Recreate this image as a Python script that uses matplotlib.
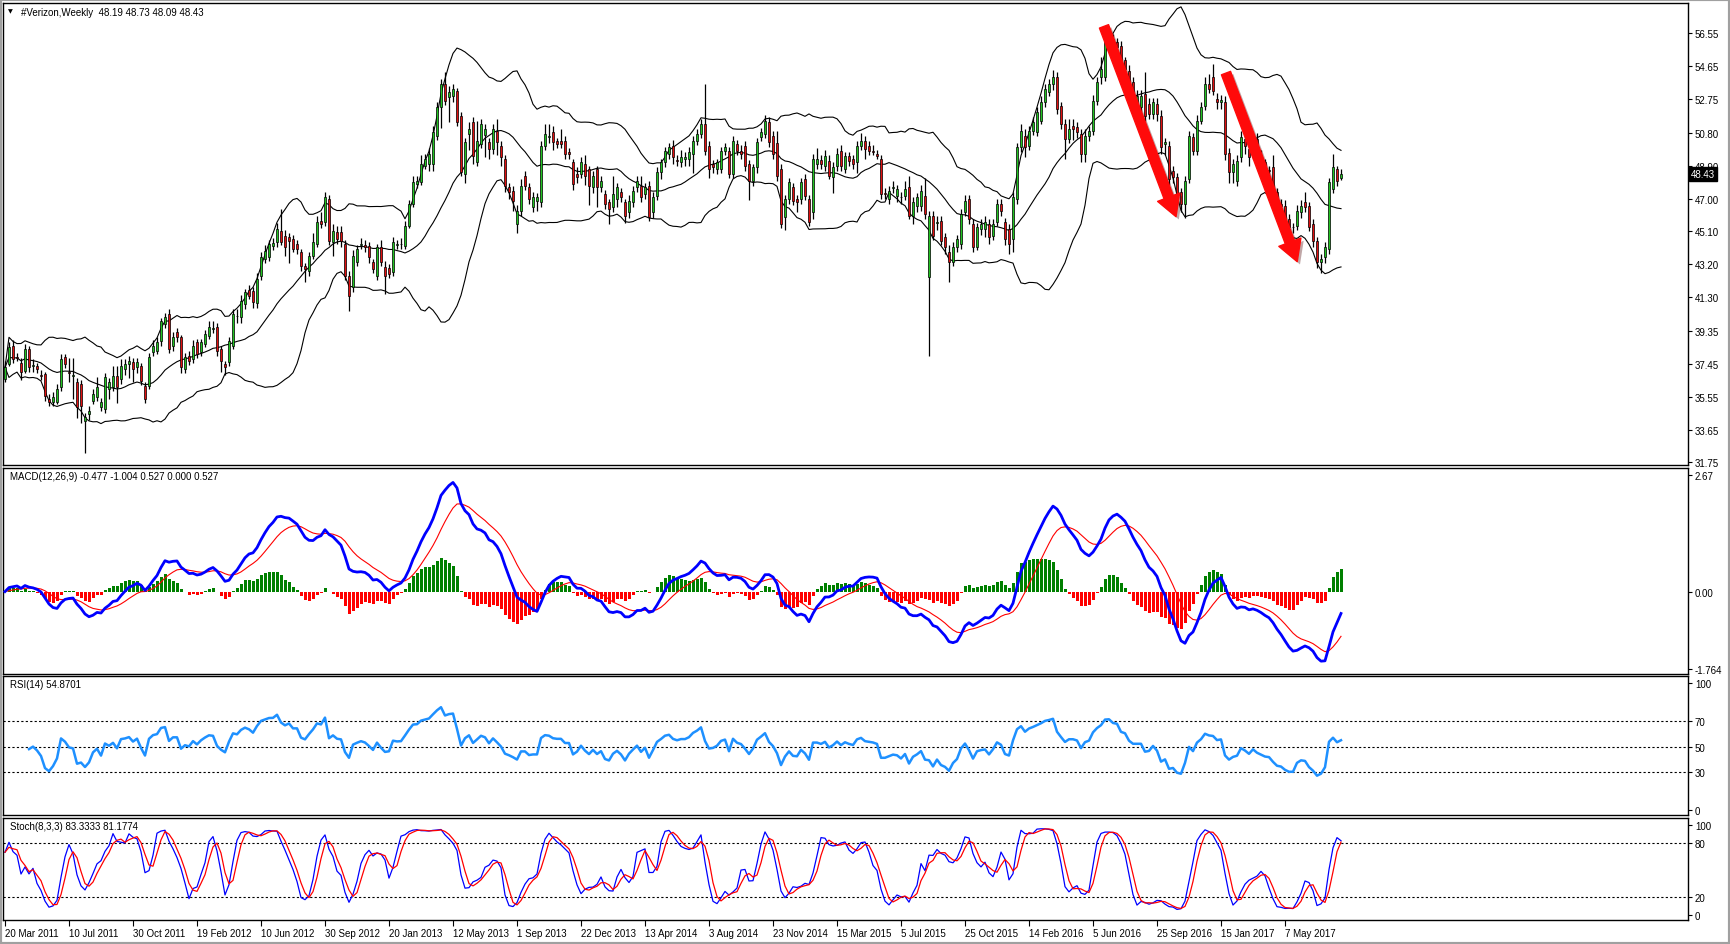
import numpy as np
import pandas as pd
import matplotlib
matplotlib.use("Agg")
import matplotlib.pyplot as plt
import matplotlib.transforms as mtransforms
import matplotlib.patheffects as pe
from matplotlib.patches import FancyArrowPatch, Rectangle

plt.rcParams['font.family'] = ['Liberation Sans', 'DejaVu Sans']

# weekly OHLC, 20 Mar 2011 .. 13 Aug 2017
opens = [
    36.57, 37.44, 38.50, 37.85, 37.52, 37.05, 38.30, 37.30, 37.30, 36.80,
    36.86, 35.41, 35.22, 35.22, 36.09, 37.82, 37.00, 36.75, 36.42, 36.28,
    34.16, 34.55, 35.32, 35.51, 34.93, 34.83, 35.99, 36.09, 36.76, 36.57,
    37.15, 37.44, 37.53, 37.24, 37.34, 36.19, 36.19, 38.11, 38.21, 38.79,
    39.75, 40.33, 38.50, 39.27, 38.98, 37.15, 37.92, 37.73, 38.69, 38.11,
    38.59, 39.07, 39.46, 39.56, 38.30, 37.44, 37.53, 38.50, 40.23, 40.13,
    40.91, 41.73, 41.68, 40.96, 42.54, 43.51, 43.60, 44.28, 44.47, 45.14,
    44.86, 44.76, 44.66, 44.37, 43.89, 43.12, 42.83, 43.70, 44.37, 45.72,
    45.63, 46.97, 44.47, 45.05, 45.05, 44.37, 42.54, 41.87, 43.31, 44.30,
    44.32, 44.28, 43.31, 42.54, 44.18, 43.02, 42.97, 42.74, 44.30, 44.35,
    44.28, 45.43, 46.68, 47.84, 47.94, 48.90, 48.99, 48.99, 50.64, 52.27,
    53.62, 52.85, 52.93, 53.24, 51.79, 48.42, 50.73, 51.41, 49.09, 50.16,
    50.69, 50.25, 49.86, 50.93, 50.06, 49.29, 47.65, 47.46, 45.53, 46.30,
    48.32, 47.65, 46.49, 46.88, 46.78, 50.06, 50.54, 50.83, 50.35, 50.35,
    50.35, 49.67, 49.09, 48.42, 48.42, 48.99, 48.71, 47.65, 48.71, 47.65,
    47.26, 46.78, 46.49, 46.97, 47.36, 46.78, 46.21, 46.78, 47.65, 47.74,
    47.26, 47.74, 46.21, 47.17, 48.52, 49.09, 49.58, 50.06, 49.20, 49.09,
    49.29, 49.29, 49.58, 50.35, 50.73, 51.31, 50.06, 48.99, 48.71, 48.71,
    49.77, 49.77, 48.42, 50.16, 49.77, 50.06, 48.99, 48.03, 48.80, 50.54,
    50.73, 51.41, 50.64, 50.20, 48.71, 45.91, 46.97, 47.65, 46.97, 46.97,
    48.13, 46.97, 46.21, 49.00, 49.20, 48.90, 49.19, 48.23, 48.90, 49.77,
    48.71, 49.48, 49.29, 49.09, 50.06, 50.35, 50.06, 49.77, 49.58, 49.29,
    47.30, 46.97, 47.60, 47.17, 47.10, 47.17, 47.65, 46.01, 46.59, 46.59,
    47.17, 42.45, 46.01, 45.60, 45.72, 44.76, 43.89, 43.31, 44.18, 44.37,
    46.21, 46.97, 45.53, 44.18, 45.24, 45.24, 45.53, 44.86, 45.63, 46.68,
    45.63, 45.24, 44.66, 46.97, 49.96, 50.64, 50.06, 50.93, 50.83, 51.50,
    52.56, 53.14, 53.62, 54.01, 52.37, 51.31, 50.45, 51.21, 51.12, 50.73,
    49.58, 50.64, 50.93, 52.66, 54.01, 54.01, 56.03, 56.22, 56.03, 55.84,
    55.00, 54.39, 53.72, 52.56, 52.27, 53.04, 52.46, 51.89, 52.46, 51.79,
    50.16, 50.06, 48.61, 48.23, 47.36, 46.68, 48.13, 50.54, 49.77, 51.50,
    52.37, 53.62, 54.01, 52.75, 52.56, 52.56, 49.63, 48.52, 48.03, 49.38,
    50.45, 49.86, 49.77, 50.45, 49.48, 49.09, 48.63, 48.80, 47.36, 46.69,
    46.59, 45.82, 45.36, 45.43, 46.21, 46.78, 46.59, 45.53, 44.57, 43.31,
    43.60, 44.08, 47.55, 48.71, 48.19,
]
highs = [
    37.6, 38.7, 38.8, 38.1, 37.8, 38.6, 38.5, 37.7, 37.5, 37.1,
    37.0, 35.7, 35.8, 36.3, 38.0, 38.0, 37.8, 37.8, 36.6, 36.5,
    34.6, 35.0, 36.0, 36.7, 35.5, 36.9, 36.6, 37.3, 37.3, 37.7,
    37.7, 37.9, 37.8, 37.8, 37.5, 36.4, 38.1, 38.8, 39.0, 40.1,
    40.4, 40.6, 39.3, 39.5, 39.1, 38.1, 38.2, 38.8, 38.9, 38.9,
    39.4, 39.9, 39.9, 39.8, 38.5, 37.6, 39.0, 40.6, 40.6, 41.4,
    41.8, 42.0, 41.9, 42.7, 43.9, 44.3, 44.6, 44.7, 45.6, 46.4,
    45.2, 45.0, 44.9, 44.6, 44.1, 43.3, 43.9, 45.0, 46.0, 46.2,
    47.4, 47.2, 45.5, 45.4, 45.4, 44.6, 42.8, 44.0, 44.3, 44.7,
    44.6, 44.5, 43.5, 44.4, 44.6, 43.4, 43.2, 44.8, 44.6, 44.7,
    45.7, 46.9, 48.3, 48.3, 49.5, 49.6, 49.9, 51.2, 52.6, 53.9,
    54.3, 53.5, 53.6, 53.4, 52.0, 50.5, 51.4, 51.7, 51.5, 51.6,
    51.3, 50.5, 51.3, 51.6, 50.3, 49.5, 47.9, 47.7, 46.6, 48.1,
    48.6, 47.9, 47.4, 47.3, 50.3, 51.3, 51.3, 51.2, 50.5, 51.0,
    50.6, 49.9, 49.3, 48.8, 49.4, 49.5, 48.9, 48.6, 48.9, 48.3,
    47.5, 47.0, 48.3, 47.9, 47.6, 47.0, 47.2, 47.7, 48.3, 48.3,
    47.9, 48.0, 47.4, 48.8, 49.3, 50.0, 50.2, 50.4, 49.5, 49.8,
    49.7, 50.0, 50.6, 51.0, 51.6, 53.6, 50.3, 49.2, 49.3, 50.0,
    50.2, 50.0, 50.6, 50.4, 50.1, 50.3, 49.2, 49.0, 50.5, 51.1,
    51.8, 51.7, 50.9, 50.9, 49.0, 47.2, 48.2, 47.9, 47.2, 48.2,
    48.4, 47.2, 49.6, 49.9, 49.5, 49.8, 49.5, 49.1, 49.9, 50.1,
    49.7, 49.7, 49.5, 50.3, 50.8, 50.6, 50.3, 50.1, 49.8, 49.5,
    47.6, 47.7, 48.0, 47.8, 47.4, 48.0, 48.3, 47.1, 47.3, 47.8,
    48.2, 46.3, 46.3, 46.0, 46.0, 45.0, 44.3, 44.5, 44.9, 46.4,
    47.2, 47.2, 45.8, 45.6, 45.8, 46.0, 45.8, 45.8, 47.0, 47.0,
    45.9, 45.5, 47.4, 50.2, 51.3, 51.0, 51.2, 51.7, 52.3, 52.9,
    53.6, 53.9, 54.4, 54.3, 52.6, 51.6, 51.6, 51.6, 51.4, 51.0,
    51.0, 51.2, 53.0, 54.0, 55.2, 56.6, 56.8, 56.5, 56.3, 56.1,
    55.2, 54.7, 54.0, 53.3, 53.3, 54.3, 52.8, 52.8, 52.8, 52.1,
    50.5, 50.3, 48.9, 48.5, 47.6, 48.3, 50.9, 50.8, 51.8, 52.6,
    54.0, 54.2, 54.8, 53.1, 53.0, 52.9, 49.9, 49.3, 49.5, 50.9,
    50.8, 50.1, 50.5, 50.8, 49.8, 49.3, 48.9, 49.5, 47.6, 47.0,
    46.9, 46.1, 45.6, 46.6, 46.9, 47.4, 46.8, 45.8, 44.8, 43.8,
    44.5, 48.2, 49.6, 48.9, 48.73,
]
lows = [
    36.4, 37.3, 37.5, 37.6, 36.5, 36.9, 37.0, 37.0, 36.9, 36.5,
    35.3, 35.0, 35.0, 35.1, 35.9, 37.2, 36.4, 35.4, 34.3, 34.0,
    32.3, 34.2, 35.1, 35.3, 34.7, 34.6, 35.4, 35.9, 35.2, 36.3,
    36.8, 36.6, 36.4, 36.9, 36.2, 35.2, 36.0, 37.9, 38.0, 38.5,
    39.5, 38.1, 38.2, 38.7, 36.9, 36.9, 37.4, 37.5, 37.8, 37.9,
    38.4, 38.9, 39.2, 37.9, 37.0, 36.8, 37.3, 38.3, 39.8, 39.8,
    40.6, 41.2, 40.7, 40.7, 42.3, 43.3, 43.4, 44.0, 44.2, 44.3,
    43.7, 43.3, 43.9, 43.8, 42.8, 42.2, 42.5, 43.5, 44.2, 45.3,
    45.4, 44.3, 43.7, 44.4, 44.2, 42.3, 40.5, 41.6, 43.1, 44.1,
    43.9, 43.3, 42.7, 42.3, 43.1, 41.5, 42.4, 42.5, 44.1, 44.1,
    44.1, 45.3, 46.5, 47.6, 47.8, 48.7, 48.6, 48.6, 50.4, 51.1,
    52.4, 51.4, 52.6, 51.2, 48.3, 47.9, 49.8, 49.0, 48.9, 49.9,
    49.4, 49.3, 49.6, 49.5, 48.9, 47.4, 47.0, 46.3, 45.0, 46.0,
    47.5, 46.7, 46.2, 46.3, 46.5, 49.8, 50.2, 49.8, 49.9, 49.9,
    49.3, 49.3, 47.5, 47.9, 48.2, 47.8, 46.6, 47.3, 46.5, 47.4,
    46.4, 45.5, 46.2, 46.5, 46.8, 45.6, 45.9, 46.5, 47.4, 46.8,
    47.0, 45.7, 45.9, 46.9, 48.1, 48.8, 49.3, 49.0, 48.9, 48.8,
    48.9, 48.9, 48.5, 50.1, 50.5, 49.5, 48.2, 48.5, 48.4, 48.5,
    49.5, 48.2, 48.2, 49.5, 49.3, 48.6, 46.9, 47.7, 48.5, 50.3,
    50.5, 50.0, 49.3, 48.0, 45.3, 45.2, 46.7, 46.6, 46.2, 46.7,
    46.9, 45.4, 45.8, 48.7, 48.7, 48.6, 48.1, 47.3, 48.6, 48.6,
    48.5, 48.9, 48.7, 48.5, 49.8, 49.3, 49.5, 49.5, 49.3, 47.0,
    47.0, 46.7, 47.3, 46.8, 46.7, 46.9, 45.8, 45.5, 46.2, 46.3,
    45.8, 37.9, 44.6, 45.2, 44.3, 43.8, 42.2, 43.1, 43.9, 44.1,
    46.0, 45.5, 43.9, 44.0, 44.9, 44.8, 44.4, 44.6, 45.4, 46.0,
    44.3, 43.8, 43.9, 46.7, 49.7, 49.4, 49.8, 50.7, 50.6, 51.3,
    52.3, 52.9, 53.3, 51.9, 51.0, 49.3, 50.2, 50.4, 50.5, 49.1,
    49.1, 50.3, 50.7, 52.4, 53.6, 53.8, 55.8, 55.5, 55.4, 54.3,
    54.0, 53.1, 52.6, 52.3, 52.0, 51.5, 51.6, 51.6, 51.5, 49.6,
    49.5, 47.8, 47.9, 46.6, 46.2, 45.9, 47.9, 49.5, 49.5, 51.3,
    52.1, 53.1, 53.0, 52.2, 52.2, 49.2, 47.9, 47.9, 47.7, 49.1,
    49.6, 48.9, 49.3, 49.1, 48.8, 48.4, 48.3, 47.3, 46.5, 46.2,
    45.5, 45.0, 45.0, 45.2, 45.9, 46.2, 45.1, 44.2, 43.0, 42.7,
    43.3, 43.8, 47.3, 47.7, 48.09,
]
closes = [
    37.24, 38.40, 37.73, 37.80, 36.95, 38.30, 37.24, 37.40, 37.15, 36.75,
    35.60, 35.22, 35.51, 35.99, 37.73, 37.44, 36.90, 36.80, 34.93, 35.03,
    34.35, 34.74, 35.70, 36.09, 35.22, 36.66, 36.38, 36.76, 36.09, 37.34,
    37.44, 37.63, 37.15, 37.53, 36.47, 35.41, 37.82, 38.50, 38.69, 39.94,
    40.13, 38.30, 38.98, 38.98, 37.24, 37.82, 37.63, 38.50, 38.02, 38.69,
    39.17, 39.56, 39.50, 38.21, 37.63, 37.24, 38.79, 40.33, 40.20, 41.10,
    41.58, 41.39, 41.00, 42.35, 43.60, 43.99, 44.37, 44.41, 45.24, 44.47,
    44.18, 44.57, 44.08, 44.08, 43.12, 42.93, 43.70, 44.47, 45.63, 45.53,
    47.07, 44.57, 45.14, 44.66, 44.57, 42.54, 41.39, 43.70, 44.08, 44.40,
    44.18, 43.60, 42.93, 44.18, 43.31, 42.54, 42.64, 44.47, 44.35, 44.40,
    45.43, 46.68, 47.94, 48.03, 48.99, 49.29, 49.58, 50.83, 52.27, 53.62,
    52.66, 53.14, 53.33, 51.41, 48.52, 50.25, 51.02, 49.48, 50.35, 51.31,
    51.02, 49.86, 51.02, 50.25, 49.38, 47.74, 47.36, 46.88, 46.30, 47.74,
    47.74, 46.97, 47.07, 47.07, 50.06, 50.73, 50.64, 50.25, 50.16, 50.16,
    49.58, 49.58, 47.84, 48.23, 49.09, 48.32, 47.74, 48.32, 47.65, 48.03,
    46.68, 46.40, 47.26, 47.65, 47.07, 46.01, 46.88, 47.46, 48.03, 47.07,
    47.65, 45.91, 47.07, 48.52, 49.09, 49.77, 49.96, 49.38, 49.18, 49.38,
    49.38, 49.67, 50.35, 50.73, 51.31, 49.77, 48.71, 48.80, 49.09, 49.77,
    49.96, 48.42, 50.35, 49.77, 49.58, 48.90, 48.03, 48.80, 50.25, 50.83,
    51.50, 50.25, 49.58, 48.32, 45.53, 46.97, 47.94, 46.88, 46.78, 47.94,
    47.17, 45.63, 49.29, 49.29, 49.00, 49.48, 48.32, 48.80, 49.58, 48.90,
    49.48, 49.19, 49.00, 50.06, 50.35, 49.86, 49.77, 49.67, 49.48, 47.26,
    47.26, 47.46, 47.65, 47.55, 47.07, 47.55, 46.01, 46.78, 47.07, 47.46,
    46.11, 46.01, 44.86, 45.63, 44.57, 44.18, 43.31, 44.18, 44.66, 46.11,
    46.88, 45.82, 44.18, 45.34, 45.53, 45.63, 44.76, 45.53, 46.68, 46.30,
    44.66, 44.37, 47.07, 49.96, 50.93, 49.96, 50.93, 51.41, 51.99, 52.56,
    53.33, 53.62, 54.01, 52.18, 51.31, 50.45, 51.02, 51.02, 50.83, 49.58,
    50.64, 50.93, 52.66, 53.72, 54.49, 56.22, 56.32, 55.84, 55.74, 54.68,
    54.49, 53.43, 52.95, 52.95, 52.95, 51.79, 51.89, 52.56, 51.89, 49.96,
    50.25, 48.13, 48.23, 46.97, 46.68, 48.03, 50.64, 49.77, 51.50, 52.27,
    53.62, 53.33, 53.24, 52.56, 52.70, 49.58, 48.52, 48.99, 49.19, 50.54,
    50.06, 49.38, 50.16, 49.48, 49.09, 48.71, 48.60, 47.65, 46.78, 46.59,
    45.82, 45.34, 45.34, 46.30, 46.59, 46.49, 45.34, 44.57, 43.31, 43.51,
    44.18, 47.94, 48.80, 48.03, 48.43,
]

date_labels = ['20 Mar 2011', '10 Jul 2011', '30 Oct 2011', '19 Feb 2012', '10 Jun 2012',
               '30 Sep 2012', '20 Jan 2013', '12 May 2013', '1 Sep 2013', '22 Dec 2013',
               '13 Apr 2014', '3 Aug 2014', '23 Nov 2014', '15 Mar 2015', '5 Jul 2015',
               '25 Oct 2015', '14 Feb 2016', '5 Jun 2016', '25 Sep 2016', '15 Jan 2017',
               '7 May 2017']
date_bars = list(range(0, 321, 16))

price_ticks = [56.55, 54.65, 52.75, 50.80, 48.90, 47.00, 45.10, 43.20, 41.30, 39.35,
               37.45, 35.55, 33.65, 31.75]
macd_ticks = [2.67, 0.00, -1.764]
macd_tick_labels = ['2.67', '0.00', '-1.764']
rsi_ticks = [100, 70, 50, 30, 0]
stoch_ticks = [100, 80, 20, 0]

last_price = 48.43
header = '#Verizon,Weekly  48.19 48.73 48.09 48.43'
macd_title = 'MACD(12,26,9) -0.477 -1.004 0.527 0.000 0.527'
rsi_title = 'RSI(14) 54.8701'
stoch_title = 'Stoch(8,3,3) 83.3333 81.1774'

# hand-drawn trend arrows (bar index, price)
trend_arrows = [((274.5, 57.1), (293.0, 45.8)), ((305.0, 54.4), (323.3, 43.2))]

# ---- indicators
o = np.array(opens)
h = np.array(highs)
l = np.array(lows)
c = pd.Series(closes)
n = len(c)
x = np.arange(n)

mid = c.rolling(20, min_periods=1).mean()
sd = c.rolling(20, min_periods=1).std(ddof=0)
upper = mid + 2 * sd
lower = mid - 2 * sd

ema12 = c.ewm(span=12, adjust=False).mean()
ema26 = c.ewm(span=26, adjust=False).mean()
macd = ema12 - ema26
signal = macd.ewm(span=9, adjust=False).mean()
hist = macd - signal

delta = c.diff()
gain = delta.clip(lower=0).ewm(alpha=1 / 14, adjust=True, min_periods=6).mean()
loss = (-delta.clip(upper=0)).ewm(alpha=1 / 14, adjust=True, min_periods=6).mean()
rsi = 100 - 100 / (1 + gain / loss)

hs = pd.Series(h)
ls = pd.Series(l)
ll = ls.rolling(8, min_periods=1).min()
hh = hs.rolling(8, min_periods=1).max()
k = 100 * (c - ll).rolling(3, min_periods=1).sum() / (hh - ll).rolling(3, min_periods=1).sum()
d = k.rolling(3, min_periods=1).mean()

# ---- figure
W, H = 1730, 945
fig = plt.figure(figsize=(W / 100, H / 100), dpi=100)
fig.patch.set_facecolor('white')

left = 3 / W
width = (1688 - 3) / W
FS = 7


def panel(top_px, bot_px):
    ax = fig.add_axes([left, 1 - bot_px / H, width, (bot_px - top_px) / H])
    ax.set_xlim(-0.5, 420.75)
    ax.yaxis.tick_right()
    ax.tick_params(axis='y', direction='out', length=3, width=0.8, pad=2,
                   labelsize=FS, colors='black')
    ax.set_xticks([])
    for s in ax.spines.values():
        s.set_linewidth(1.0)
        s.set_color('black')
    return ax


ax = panel(4, 466)
ax_macd = panel(469, 675)
ax_rsi = panel(677, 816)
ax_st = panel(819, 921)

# main price panel
green = '#22C322'
red = '#E01010'
up = c.values >= o
body_lo = np.minimum(o, c.values)
body_h = np.maximum(np.abs(c.values - o), 0.03)
ax.vlines(x, l, h, color='black', lw=0.9, zorder=2)
ax.bar(x[up], body_h[up], bottom=body_lo[up], width=0.7, color=green,
       edgecolor='black', linewidth=0.5, zorder=3)
ax.bar(x[~up], body_h[~up], bottom=body_lo[~up], width=0.7, color=red,
       edgecolor='black', linewidth=0.5, zorder=3)
for band in (upper, mid, lower):
    ax.plot(x, band, color='black', lw=0.8, zorder=1)
ax.set_ylim(31.6, 58.3)
ax.set_yticks(price_ticks)
ax.set_yticklabels(['%.2f' % t for t in price_ticks])

for (x0, y0), (x1, y1) in trend_arrows:
    arr = FancyArrowPatch((x0, y0), (x1, y1),
                          arrowstyle='simple,head_length=15,head_width=17,tail_width=7',
                          mutation_scale=1, color='#FF0A0A', capstyle='round',
                          joinstyle='round', zorder=6)
    arr.set_path_effects([pe.SimplePatchShadow(offset=(2, -2), alpha=0.35), pe.Normal()])
    ax.add_patch(arr)

trans = mtransforms.blended_transform_factory(ax.transAxes, ax.transData)
ax.text(1.0015, last_price, '%.2f' % last_price, transform=trans, color='white',
        fontsize=FS, va='center', ha='left', clip_on=False, zorder=10,
        bbox=dict(boxstyle='square,pad=0.2', fc='black', ec='black'))
ax.text(0.003, 0.988, '\u25bc', transform=ax.transAxes, fontsize=4.5, va='top', ha='left',
        family='DejaVu Sans')
ax.text(0.0105, 0.992, header, transform=ax.transAxes, fontsize=FS, va='top', ha='left')

# MACD
hcol = np.where(hist.values >= 0, '#008000', '#FF0000')
ax_macd.bar(x, hist.values, width=0.75, color=hcol, zorder=1)
ax_macd.plot(x, macd, color='#0000FF', lw=2.0, zorder=3)
ax_macd.plot(x, signal, color='#FF0000', lw=0.8, zorder=2)
ax_macd.set_ylim(-1.88, 2.82)
ax_macd.set_yticks(macd_ticks)
ax_macd.set_yticklabels(macd_tick_labels)
ax_macd.text(0.004, 0.985, macd_title, transform=ax_macd.transAxes, fontsize=FS,
             va='top', ha='left')

# RSI
for lvl in (70, 50, 30):
    ax_rsi.axhline(lvl, color='black', lw=0.8, ls=(0, (2, 2)))
ax_rsi.plot(x, rsi, color='#1E90FF', lw=1.8)
ax_rsi.set_ylim(-3.9, 105.5)
ax_rsi.set_yticks(rsi_ticks)
ax_rsi.set_yticklabels([str(t) for t in rsi_ticks])
ax_rsi.text(0.004, 0.975, rsi_title, transform=ax_rsi.transAxes, fontsize=FS,
            va='top', ha='left')

# Stochastic
for lvl in (80, 20):
    ax_st.axhline(lvl, color='black', lw=0.8, ls=(0, (2, 2)))
ax_st.plot(x, k, color='#0000FF', lw=0.9)
ax_st.plot(x, d, color='#FF0000', lw=0.9)
ax_st.set_ylim(-6, 108.4)
ax_st.set_yticks(stoch_ticks)
ax_st.set_yticklabels([str(t) for t in stoch_ticks])
ax_st.text(0.004, 0.97, stoch_title, transform=ax_st.transAxes, fontsize=FS,
           va='top', ha='left')
ax_st.set_xticks(date_bars)
ax_st.set_xticklabels(date_labels, ha='left')
ax_st.tick_params(axis='x', direction='out', length=4, width=0.8, pad=2, labelsize=FS)

# grey window frame
fig.add_artist(Rectangle((0, 0), 1, 1, transform=fig.transFigure, fill=False,
                         ec='#A0A0A0', lw=3))

fig.savefig('out.png', dpi=100, facecolor='white')
